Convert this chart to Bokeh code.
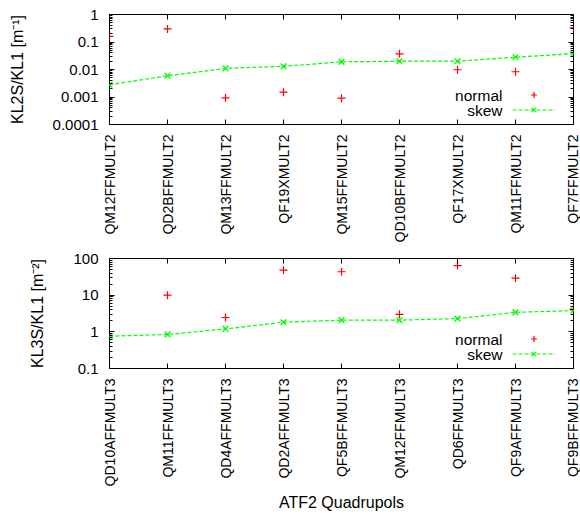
import math
from bokeh.plotting import figure
from bokeh.models import (FixedTicker, LinearAxis, Range1d, Legend, LegendItem,
                          Label, PrintfTickFormatter)
from bokeh.layouts import column
from bokeh.embed import file_html
from bokeh.resources import INLINE

# ---- data ----
mult2_names = ["QM12FFMULT2", "QD2BFFMULT2", "QM13FFMULT2", "QF19XMULT2", "QM15FFMULT2",
               "QD10BFFMULT2", "QF17XMULT2", "QM11FFMULT2", "QF7FFMULT2"]
mult2_normal = [0.16, 0.30, 0.00093, 0.0015, 0.00091, 0.037, 0.0098, 0.0083, 0.33]
mult2_skew = [0.0028, 0.0059, 0.011, 0.013, 0.019, 0.020, 0.020, 0.028, 0.038]

mult3_names = ["QD10AFFMULT3", "QM11FFMULT3", "QD4AFFMULT3", "QD2AFFMULT3", "QF5BFFMULT3",
               "QM12FFMULT3", "QD6FFMULT3", "QF9AFFMULT3", "QF9BFFMULT3"]
mult3_normal = [9.2, 10.0, 2.46, 48.0, 43.5, 3.0, 64.0, 29.0, 4.1]
mult3_skew = [0.76, 0.85, 1.2, 1.83, 2.08, 2.08, 2.3, 3.4, 3.8]

top_majors = [0.0001, 0.001, 0.01, 0.1, 1]
bot_majors = [0.1, 1, 10, 100]

FONT = "Liberation Sans"
RED = "#ff0000"
GREEN = "#00ff00"


def log_minors(majors):
    out = []
    for m in majors[:-1]:
        out += [m * k for k in range(2, 10)]
    return out


def style_axis(ax, show_labels, ticks=None, label_size="15px"):
    ax.axis_line_color = None
    ax.major_tick_in = 5
    ax.major_tick_out = 0
    ax.minor_tick_in = 3
    ax.minor_tick_out = 0
    ax.major_tick_line_color = "black"
    ax.minor_tick_line_color = "black"
    ax.major_label_text_font = FONT
    ax.major_label_text_font_size = label_size
    ax.major_label_text_color = "black"
    ax.axis_label_text_font = FONT
    ax.axis_label_text_font_style = "normal"
    ax.axis_label_text_font_size = "16px"
    ax.axis_label_text_color = "black"
    if not show_labels:
        ax.major_label_standoff = 0
        ax.major_label_text_color = None
        ax.major_label_overrides = {t: "" for t in ticks}


def make_panel(names, normal, skew, majors, ylabel, border_top, border_bottom, xlabel=None):
    xs = list(range(len(names)))
    p = figure(frame_width=464, frame_height=110,
               x_range=Range1d(0, len(names) - 1),
               y_range=Range1d(majors[0], majors[-1]),
               y_axis_type="log", output_backend="svg", toolbar_location=None,
               min_border_left=109, min_border_right=7,
               min_border_top=border_top, min_border_bottom=border_bottom)
    p.grid.visible = False
    p.outline_line_color = "black"
    p.outline_line_width = 1
    p.background_fill_color = "white"
    p.border_fill_color = "white"

    xticker = FixedTicker(ticks=xs, minor_ticks=[])
    yticker = FixedTicker(ticks=majors, minor_ticks=log_minors(majors))

    xa = p.xaxis[0]
    xa.ticker = xticker
    xa.major_label_overrides = {i: n for i, n in enumerate(names)}
    xa.major_label_orientation = math.pi / 2
    xa.major_label_standoff = 10
    style_axis(xa, True, label_size="14px")
    if xlabel:
        xa.axis_label = xlabel
        xa.axis_label_standoff = 5
        xa.axis_label_text_font_size = "16px"

    ya = p.yaxis[0]
    ya.ticker = yticker
    ya.formatter = PrintfTickFormatter(format="%g")
    ya.major_label_standoff = 11
    ya.axis_label = ylabel
    ya.axis_label_standoff = 24
    style_axis(ya, True, label_size="15px")

    top = LinearAxis(ticker=xticker)
    style_axis(top, False, xs)
    p.add_layout(top, "above")
    right = LinearAxis(ticker=yticker)
    style_axis(right, False, majors)
    p.add_layout(right, "right")

    r_norm = p.scatter(xs, normal, marker="cross", size=8, line_color=RED, line_width=1.2)
    r_line = p.line(xs, skew, line_color=GREEN, line_width=1.2, line_dash="4 2")
    r_skew = p.scatter(xs, skew, marker="x", size=8, line_color=GREEN, line_width=1.4)

    legend = Legend(items=[LegendItem(label=" ", renderers=[r_norm]),
                           LegendItem(label=" ", renderers=[r_line, r_skew])],
                    location=(403, 7), glyph_width=43, glyph_height=15,
                    label_height=15, label_width=0, label_standoff=0,
                    padding=0, margin=0, spacing=0,
                    border_line_color=None, background_fill_alpha=0,
                    label_text_font_size="1px")
    p.add_layout(legend)
    for txt, yy in (("normal", 29), ("skew", 14)):
        p.add_layout(Label(x=393, y=yy, x_units="screen", y_units="screen", text=txt,
                           text_align="right", text_baseline="middle",
                           text_font=FONT, text_font_size="15.5px", text_color="black"))
    return p


p1 = make_panel(mult2_names, mult2_normal, mult2_skew, top_majors,
                "KL2S/KL1 [m\u207b\u00b9]", 14, 124)
p2 = make_panel(mult3_names, mult3_normal, mult3_skew, bot_majors,
                "KL3S/KL1 [m\u207b\u00b2]", 10, 147, xlabel="ATF2 Quadrupols")

layout = column(p1, p2, spacing=0)
open("out.html", "w").write(file_html(layout, INLINE))
